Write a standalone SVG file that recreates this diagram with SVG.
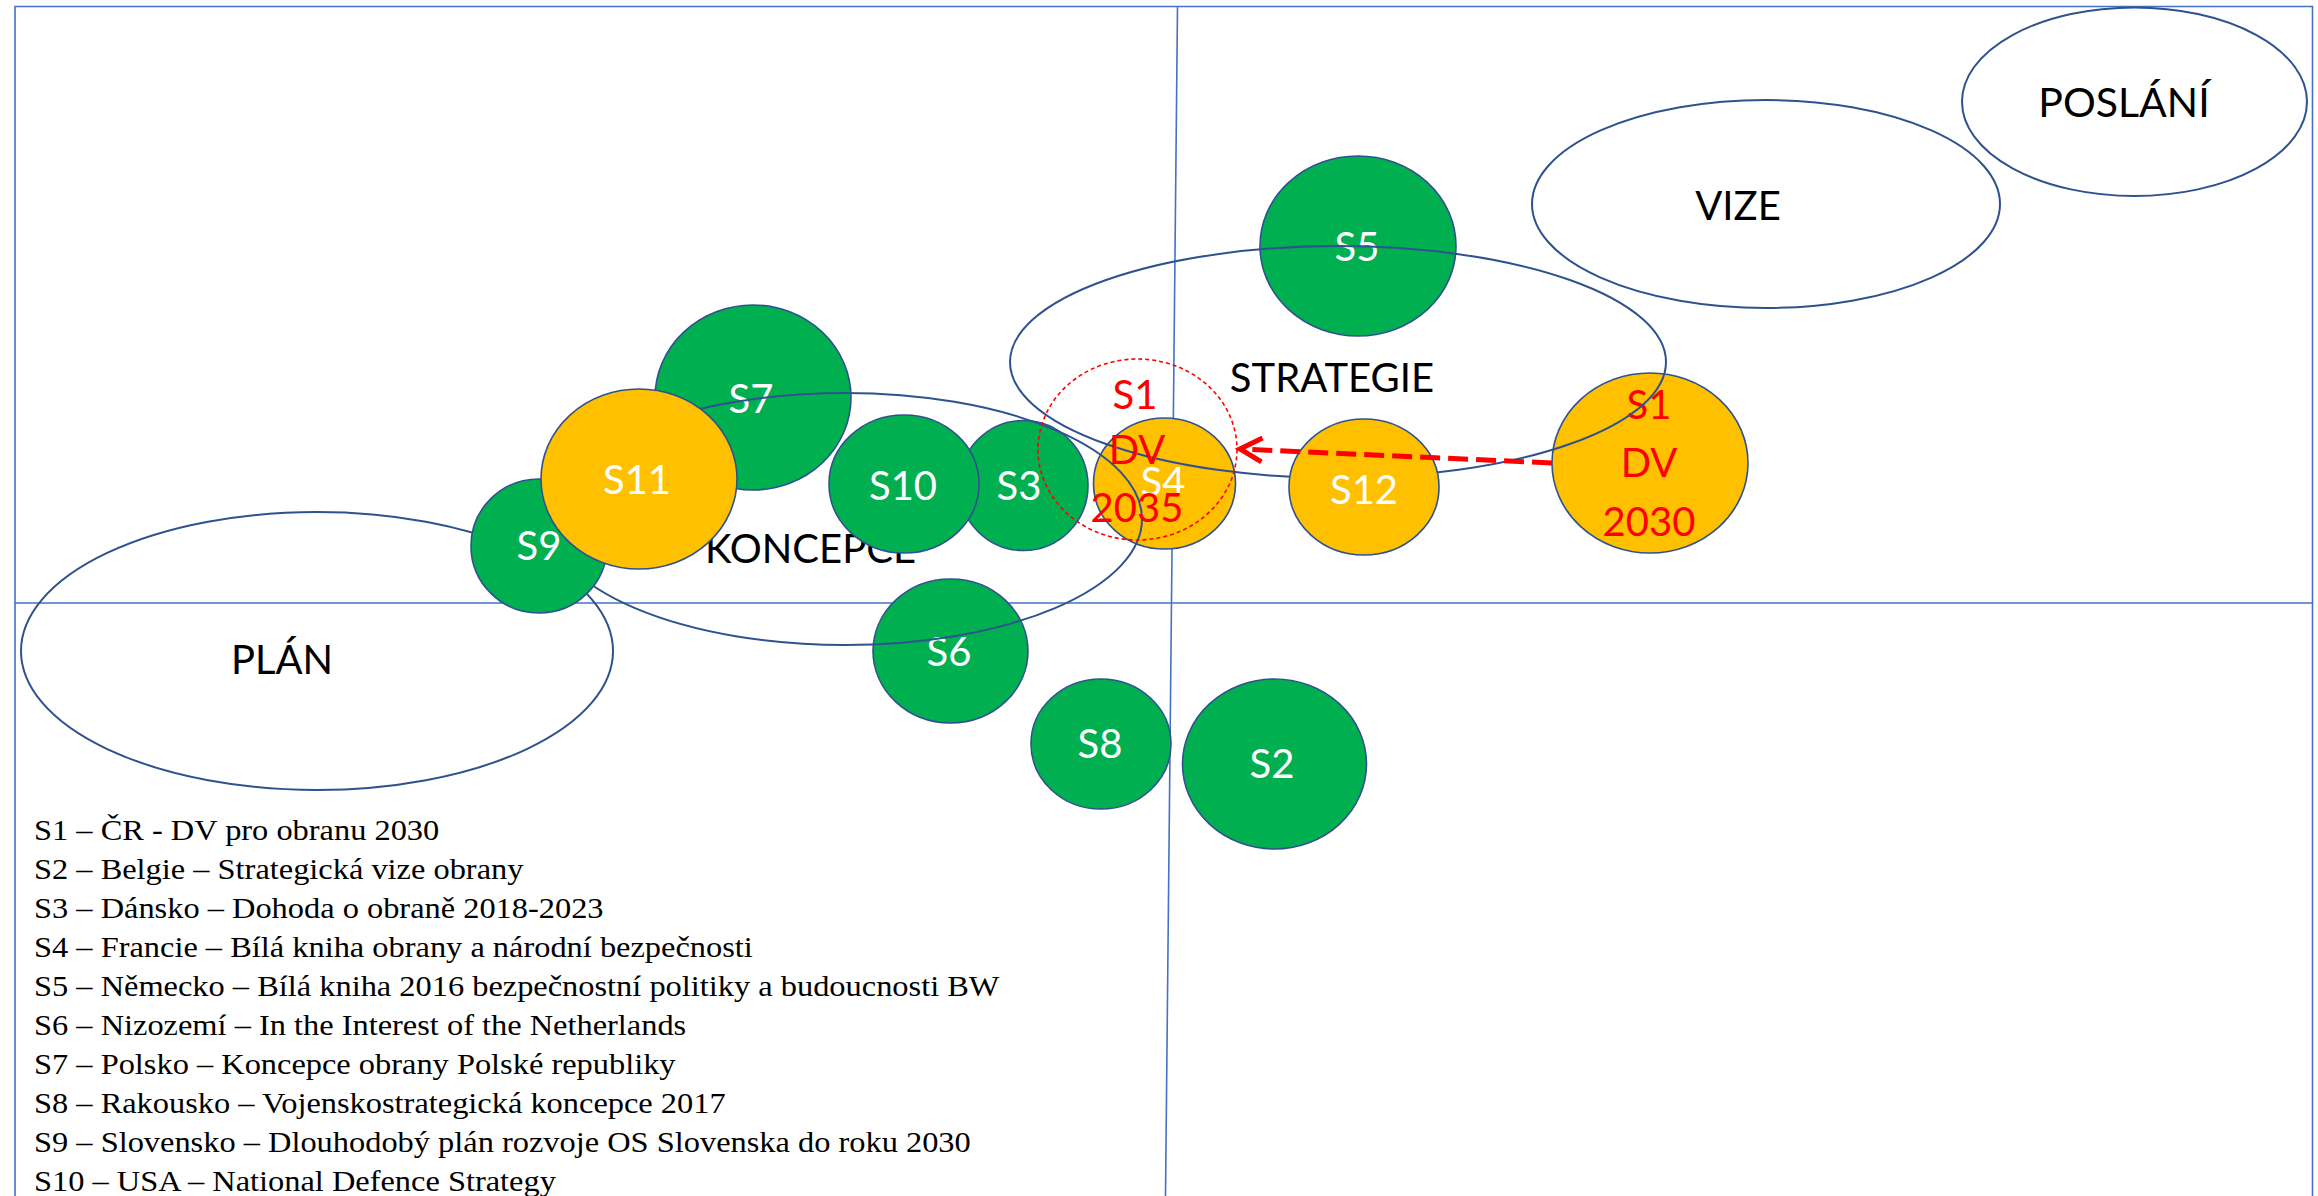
<svg xmlns="http://www.w3.org/2000/svg" width="2318" height="1196" viewBox="0 0 2318 1196">
<style>
.grid{fill:none;stroke:#4472C4;stroke-width:1.6}
.zone{fill:none;stroke:#2F528F;stroke-width:2}
.g{fill:#00B050;stroke:#2F528F;stroke-width:1.6}
.y{fill:#FFC000;stroke:#2F528F;stroke-width:1.6}
.lbl{font-family:Lato,"Liberation Sans",sans-serif;font-size:40px;text-anchor:middle;fill:#000}
.w{fill:#fff}
.r{fill:#FF0000}
.leg{font-family:"Liberation Serif","Times New Roman",serif;font-size:30px;fill:#000}
.dash{fill:none;stroke:#FF0000;stroke-width:1.6;stroke-dasharray:4 3}
.arrow{fill:none;stroke:#FF0000;stroke-width:5;stroke-dasharray:20 8}
</style>
<defs>
<marker id="openArrow" markerUnits="userSpaceOnUse" viewBox="0 0 30 30" markerWidth="30" markerHeight="30" refX="26" refY="15" orient="auto" overflow="visible">
<path d="M4,3 L26,15 L4,27" fill="none" stroke="#FF0000" stroke-width="5" stroke-dasharray="none" stroke-linejoin="miter"/>
</marker>
</defs>
<rect width="2318" height="1196" fill="#fff"/>
<g id="grid">
<path class="grid" d="M15,1196 V6.5 H2312.5 V1196"/>
<line class="grid" x1="1177.5" y1="6.5" x2="1165.5" y2="1196"/>
<line class="grid" x1="15" y1="603" x2="2312.5" y2="603"/>
</g>
<g id="plan">
<ellipse class="zone" cx="317" cy="651" rx="296" ry="139"/>
<text class="lbl" x="282" y="674">PLÁN</text>
</g>
<g id="poslani">
<ellipse class="zone" cx="2134.5" cy="101.7" rx="172.5" ry="94.3"/>
<text class="lbl" x="2124" y="117" style="font-size:41px">POSLÁNÍ</text>
</g>
<g id="vize">
<ellipse class="zone" cx="1766" cy="204" rx="234" ry="104"/>
<text class="lbl" x="1738" y="220">VIZE</text>
</g>
<g id="S5">
<ellipse class="g" cx="1358" cy="246" rx="98" ry="90"/>
<text class="lbl w" x="1357" y="261">S5</text>
</g>
<g id="S4">
<ellipse class="y" cx="1164.5" cy="483.5" rx="71" ry="65.5"/>
<text class="lbl w" x="1163" y="496">S4</text>
</g>
<g id="S1-2030">
<ellipse class="y" cx="1650" cy="463" rx="98" ry="90"/>
<text class="lbl r" x="1649" y="419">S1</text>
<text class="lbl r" x="1649" y="477">DV</text>
<text class="lbl r" x="1649" y="536">2030</text>
</g>
<g id="S7">
<ellipse class="g" cx="753" cy="397.5" rx="98" ry="92.5"/>
<text class="lbl w" x="751" y="413">S7</text>
</g>
<g id="S6">
<ellipse class="g" cx="950.5" cy="651" rx="77.5" ry="72"/>
<text class="lbl w" x="949" y="666">S6</text>
</g>
<g id="S3">
<ellipse class="g" cx="1023.5" cy="485.5" rx="64.5" ry="65"/>
<text class="lbl w" x="1019" y="500">S3</text>
</g>
<g id="koncepce">
<text class="lbl" x="705" y="563" style="text-anchor:start">KONCEPCE</text>
<ellipse class="zone" cx="845" cy="519" rx="297" ry="126"/>
</g>
<g id="strategie">
<text class="lbl" x="1332" y="392">STRATEGIE</text>
<ellipse class="zone" cx="1338" cy="362" rx="328" ry="116"/>
</g>
<g id="S9">
<ellipse class="g" cx="539" cy="546" rx="68" ry="67"/>
<text class="lbl w" x="539" y="560">S9</text>
</g>
<g id="S11">
<ellipse class="y" cx="639" cy="479" rx="98" ry="90"/>
<text class="lbl w" x="637" y="494">S11</text>
</g>
<g id="S10">
<ellipse class="g" cx="904" cy="484" rx="75" ry="69"/>
<text class="lbl w" x="903" y="500">S10</text>
</g>
<g id="S12">
<ellipse class="y" cx="1364" cy="487" rx="75" ry="68"/>
<text class="lbl w" x="1364" y="504">S12</text>
</g>
<g id="S8">
<ellipse class="g" cx="1101" cy="744" rx="70" ry="65"/>
<text class="lbl w" x="1100" y="758">S8</text>
</g>
<g id="S2">
<ellipse class="g" cx="1274.5" cy="764" rx="92" ry="85"/>
<text class="lbl w" x="1272" y="778">S2</text>
</g>
<g id="S1-2035">
<ellipse class="dash" cx="1137.5" cy="449.5" rx="99.5" ry="90.5"/>
<text class="lbl r" x="1135" y="409">S1</text>
<text class="lbl r" x="1137" y="464">DV</text>
<text class="lbl r" x="1137" y="522">2035</text>
</g>
<g id="connectors">
<line class="arrow" x1="1552" y1="463" x2="1240" y2="449" marker-end="url(#openArrow)"/>
</g>
<g id="legend" transform="scale(1.08 1)">
<text class="leg" x="31.5" y="840">S1 – ČR - DV pro obranu 2030</text>
<text class="leg" x="31.5" y="879">S2 – Belgie – Strategická vize obrany</text>
<text class="leg" x="31.5" y="918">S3 – Dánsko – Dohoda o obraně 2018-2023</text>
<text class="leg" x="31.5" y="957">S4 – Francie – Bílá kniha obrany a národní bezpečnosti</text>
<text class="leg" x="31.5" y="996">S5 – Německo – Bílá kniha 2016 bezpečnostní politiky a budoucnosti BW</text>
<text class="leg" x="31.5" y="1035">S6 – Nizozemí – In the Interest of the Netherlands</text>
<text class="leg" x="31.5" y="1074">S7 – Polsko – Koncepce obrany Polské republiky</text>
<text class="leg" x="31.5" y="1113">S8 – Rakousko – Vojenskostrategická koncepce 2017</text>
<text class="leg" x="31.5" y="1152">S9 – Slovensko – Dlouhodobý plán rozvoje OS Slovenska do roku 2030</text>
<text class="leg" x="31.5" y="1191">S10 – USA – National Defence Strategy</text>
</g>
</svg>
